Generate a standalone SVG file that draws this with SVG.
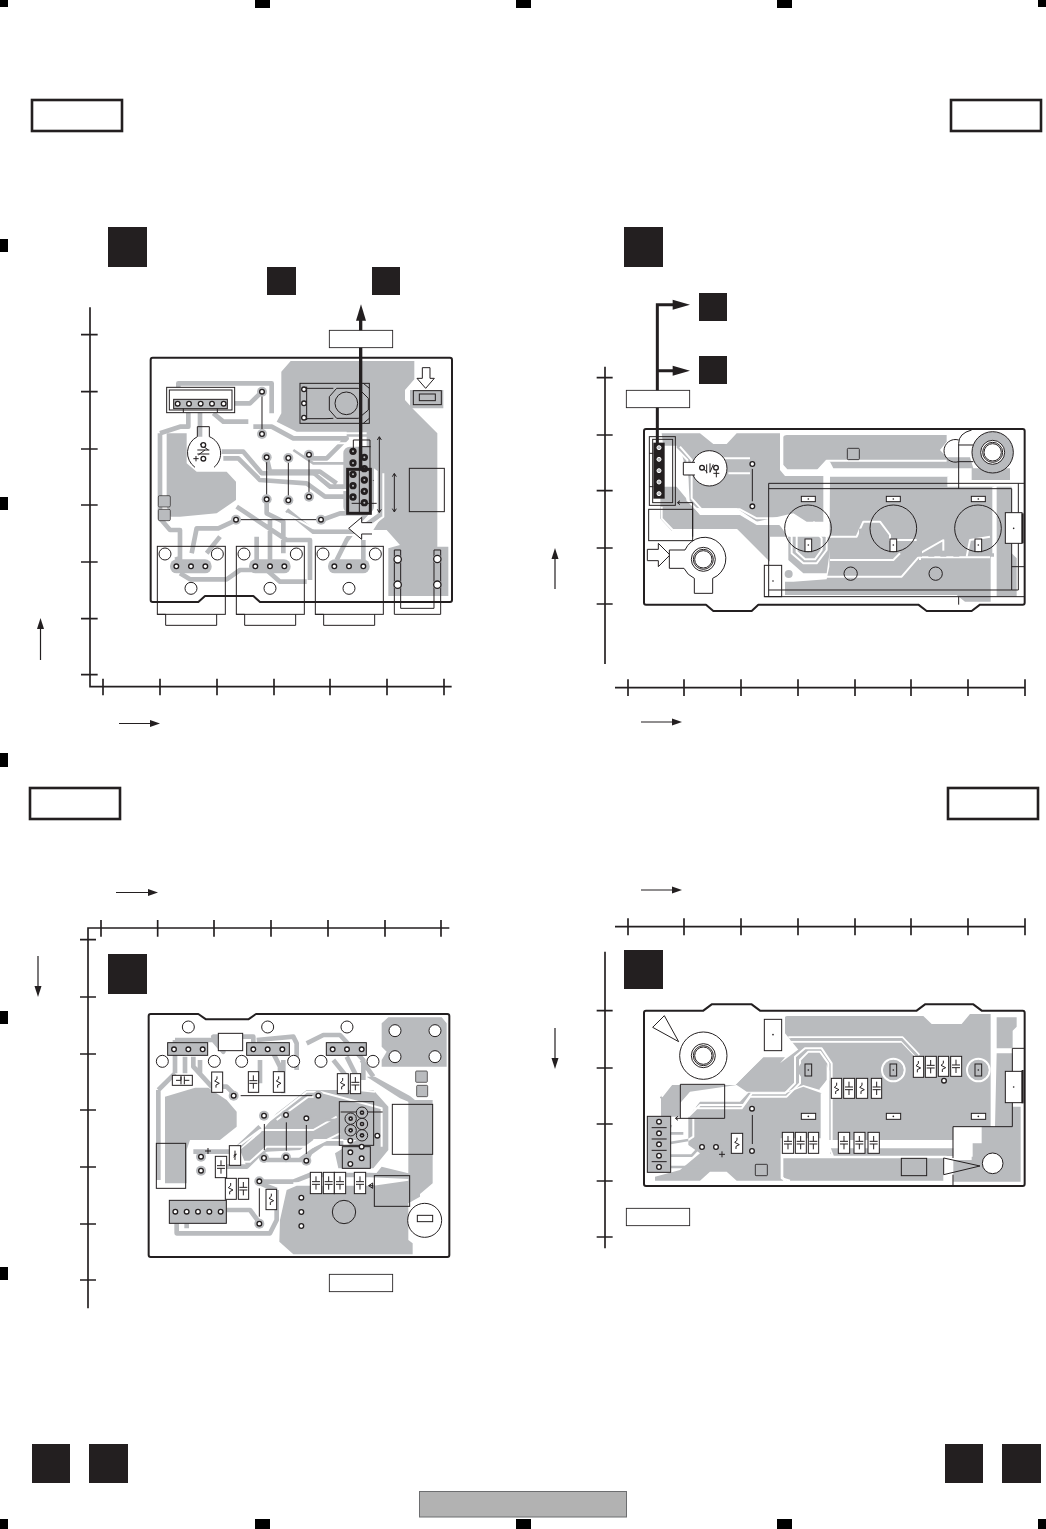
<svg xmlns="http://www.w3.org/2000/svg" width="1046" height="1529" viewBox="0 0 1046 1529">
<style>
.b{fill:#231f20}.m{fill:#000}
.f{fill:#fff;stroke:#231f20;stroke-width:3}
.g{fill:#b9bbbe}
.t{fill:none;stroke:#b9bbbe;stroke-width:14;stroke-linejoin:round}
.u{fill:none;stroke:#b9bbbe;stroke-width:8;stroke-linejoin:round}
.w{fill:none;stroke:#fff;stroke-width:6;stroke-linejoin:round}
.k{fill:none;stroke:#231f20;stroke-width:3}
.o{fill:none;stroke:#231f20;stroke-width:6}
.a{fill:none;stroke:#231f20;stroke-width:5}
.x{fill:none;stroke:#231f20;stroke-width:9}
.bd{fill:#fff;stroke:#231f20;stroke-width:6;stroke-linejoin:round}
.l{fill:#fff;stroke:#231f20;stroke-width:2.6}
</style>
<defs>
<g id="p"><circle r="15" class="g"/><circle r="7" fill="#fff" stroke="#231f20" stroke-width="4"/></g>
<g id="q"><circle r="7" fill="#fff" stroke="#231f20" stroke-width="4"/></g>
<g id="d"><circle r="11" class="b"/><circle r="3" fill="#b9bbbe"/></g>
<g id="e"><circle r="17" fill="#b9bbbe" stroke="#231f20" stroke-width="3"/><circle r="7" class="b"/><circle r="2" fill="#fff"/></g>
<g id="h"><circle r="18" fill="#fff" stroke="#231f20" stroke-width="3"/></g>
<g id="bp"><circle r="14" class="g"/><circle r="11" fill="#fff" stroke="#231f20" stroke-width="4"/></g>
<g id="dot"><circle r="2.5" fill="#231f20"/></g>
<path id="r" class="k" d="M0,-17 V-9 L-7,-3 L7,4 L-3,9 V17"/>
<path id="c" class="k" d="M0,-20 V-4 M-12,-4 H12 M-12,4 H12 M0,4 V20"/>
<g id="jack">
<rect x="270" y="1018" width="125" height="42" rx="20" fill="#b9bbbe"/>
<rect x="232" y="979" width="204" height="204" fill="none" stroke="#231f20" stroke-width="3"/>
<path class="k" d="M232,1183 H257 V1216 H410 V1183"/>
<use href="#h" x="255" y="1002"/><use href="#h" x="412" y="1002"/><use href="#h" x="333" y="1105"/>
<use href="#q" x="289" y="1039"/><use href="#q" x="333" y="1039"/><use href="#q" x="376" y="1039"/>
</g>
<g id="hole"><circle r="36" fill="#fff" stroke="#231f20" stroke-width="3"/><circle r="30" fill="none" stroke="#231f20" stroke-width="3"/><circle r="26" fill="#fff" stroke="#231f20" stroke-width="3"/></g>
</defs>

<g id="marks">
<rect class="m" x="0" y="0" width="8" height="7"/><rect class="m" x="255" y="0" width="15" height="8"/><rect class="m" x="516" y="0" width="15" height="8"/><rect class="m" x="777" y="0" width="15" height="8"/><rect class="m" x="1038" y="0" width="8" height="7"/>
<rect class="m" x="0" y="239" width="8" height="13"/><rect class="m" x="0" y="497" width="8" height="13"/><rect class="m" x="0" y="753" width="8" height="14"/><rect class="m" x="0" y="1011" width="8" height="13"/><rect class="m" x="0" y="1267" width="8" height="13"/>
<rect class="m" x="0" y="1519" width="8" height="10"/><rect class="m" x="255" y="1519" width="15" height="10"/><rect class="m" x="516" y="1519" width="15" height="10"/><rect class="m" x="777" y="1519" width="15" height="10"/><rect class="m" x="1038" y="1519" width="8" height="10"/>
</g>
<g id="page-boxes">
<rect class="l" x="32" y="100" width="90" height="31"/><rect class="l" x="951" y="100" width="90" height="31"/><rect class="l" x="30" y="788" width="90" height="31"/><rect class="l" x="948" y="788" width="90" height="31"/>
<rect class="b" x="32" y="1444" width="38" height="39"/><rect class="b" x="89" y="1444" width="39" height="39"/><rect class="b" x="945" y="1444" width="38" height="39"/><rect class="b" x="1002" y="1444" width="39" height="39"/>
<rect x="419.5" y="1491.5" width="207" height="25.500" fill="#b2b2b2" stroke="#6d6e70"/>
</g>
<g id="direction-arrows" fill="#231f20">
<path d="M40.500,660 V625" stroke="#231f20" stroke-width="1.200"/><path d="M40.500,618 L44,629 H37 Z"/>
<path d="M119,723.500 H152" stroke="#231f20" stroke-width="1.200"/><path d="M160,723.500 L150,720 V727 Z"/>
<path d="M555,589 V555" stroke="#231f20" stroke-width="1.200"/><path d="M555,548 L558.500,559 H551.500 Z"/>
<path d="M641,722 H674" stroke="#231f20" stroke-width="1.200"/><path d="M682,722 L672,718.500 V725.500 Z"/>
<path d="M116,892.500 H150" stroke="#231f20" stroke-width="1.200"/><path d="M158,892.500 L148,889 V896 Z"/>
<path d="M641,890 H674" stroke="#231f20" stroke-width="1.200"/><path d="M682,890 L672,886.500 V893.500 Z"/>
<path d="M38,956 V990" stroke="#231f20" stroke-width="1.200"/><path d="M38,997 L34.500,986 H41.500 Z"/>
<path d="M555,1028 V1062" stroke="#231f20" stroke-width="1.200"/><path d="M555,1069 L551.500,1058 H558.500 Z"/>
</g>

<g id="panel-a" transform="translate(80,220) scale(.33333)">
<path class="a" d="M30,262 V1400 H1115 M3,344 H53 M3,515 H53 M3,687 H53 M3,855 H53 M3,1026 H53 M3,1196 H53 M3,1364 H53 M69,1376 V1426 M240,1376 V1426 M411,1376 V1426 M582,1376 V1426 M750,1376 V1426 M921,1376 V1426 M1092,1376 V1426"/>
<rect class="b" x="84" y="21" width="117" height="120"/><rect class="b" x="561" y="141" width="87" height="84"/><rect class="b" x="876" y="141" width="84" height="84"/>
<path class="bd" d="M218,413 H1110 Q1116,413 1116,420 V1140 Q1116,1146 1110,1146 H540 L520,1128 H375 L355,1146 H218 Q212,1146 212,1140 V420 Q212,413 218,413 Z"/>
<path class="g" d="M632,423 H1003 V478 L975,510 V540 L1000,568 L1072,640 V980 H1105 V1128 H925 V985 L960,975 L920,930 L880,930 L905,890 V760 L860,720 V650 H800 V635 H650 L590,605 L604,580 V455 Z"/>
<path class="g" d="M260,640 H320 V730 L350,755 H440 L468,785 V840 L410,880 L300,890 H272 L260,860 Z"/>
<path class="g" d="M990,510 H1090 V565 H990 Z"/>
<rect class="g" x="790" y="680" width="92" height="200" rx="20"/>
<path class="w" d="M650,640 H860"/>
<path class="t" d="M240,640 V895 L270,930 H300 V1040 M240,640 L300,620 H325 V575 M295,520 V490 H575 V580 M360,570 V650 M400,580 L430,605 H505 M546,515 L510,550 H460 M520,620 H575 L640,655 H800 L740,715 H690 M425,695 H490 L545,760 H700 L750,800 H800 M430,715 H475 L540,780 L680,790 L735,830 H800 M560,712 L570,755 H720 L770,790 M470,900 L415,925 H350 L335,1000 M470,860 L620,960 H690 V1080 M620,870 L700,935 H830 L900,885 V750 L860,720 M560,840 V880 L610,905 V1000 M530,950 V1020 M570,900 V1030 M725,900 L780,880 H860 L800,960 L770,1020 M850,960 V1030 M300,1060 L330,1078 H440 L480,1050 H560 L600,1085 H680 M290,1010 L300,1040 M380,1000 L420,950"/>
<path class="w" d="M640,670 H800 M620,880 L700,925 H830 L885,870 V750 M700,945 H840 L910,890 V760 M540,770 H700 L745,810 H800"/>
<path class="u" d="M640,690 L700,730 H800"/>
<g id="a-pads">
<rect class="f" x="260" y="502" width="204" height="76"/><rect class="k" x="268" y="510" width="188" height="60"/><rect x="281" y="538" width="161" height="28" fill="#b9bbbe" stroke="#231f20" stroke-width="3"/><path class="k" d="M310,566 V578 M412,566 V578"/>
<use href="#q" x="293" y="551"/><use href="#q" x="327" y="551"/><use href="#q" x="362" y="551"/><use href="#q" x="396" y="551"/><use href="#q" x="431" y="551"/>
<path class="k" d="M546,515 V642 M560,712 V838 M625,714 V841 M687,704 V830 M468,899 H723"/>
<use href="#p" x="546" y="515"/><use href="#p" x="546" y="642"/><use href="#p" x="560" y="712"/><use href="#p" x="560" y="838"/><use href="#p" x="625" y="714"/><use href="#p" x="625" y="841"/><use href="#p" x="687" y="704"/><use href="#p" x="687" y="830"/><use href="#p" x="468" y="899"/><use href="#p" x="723" y="899"/>
<rect class="k" x="660" y="490" width="208" height="120"/>
<path class="k" d="M680,500 V600 M680,505 H738 L760,505 M680,596 H738 L760,595 M770,505 H835 L865,535 V570 L835,595 H770 L748,570 V530 Z M850,490 L868,505 M850,610 L868,595"/>
<circle class="k" cx="799" cy="550" r="34"/>
<use href="#q" x="672" y="508"/><use href="#q" x="672" y="550"/><use href="#q" x="672" y="593"/>
<path class="k" d="M352,650 V620 H388 V650 A54,54 0 0 1 402,742 M345,742 A54,54 0 0 1 352,650 M352,690 H388 M352,702 H388 M360,672 L385,690 M355,705 L375,690 M340,716 H356 M348,708 V724"/>
<use href="#q" x="370" y="675"/><use href="#q" x="370" y="716"/>
<path class="f" d="M1027,443 H1050 V475 H1063 L1037,505 L1011,475 H1027 Z"/>
<rect class="k" x="1000" y="512" width="84" height="42"/><rect class="k" x="1018" y="522" width="48" height="20"/>
<rect x="235" y="827" width="36" height="34" rx="4" fill="#b9bbbe" stroke="#231f20" stroke-width="2"/><rect x="235" y="868" width="36" height="34" rx="4" fill="#b9bbbe" stroke="#231f20" stroke-width="2"/>
<use href="#jack"/><use href="#jack" x="237"/><use href="#jack" x="474"/>
<path class="k" d="M943,990 V1183 H1082 V990 H1062 V1165 H962 V990 Z"/>
<use href="#bp" x="953" y="1018"/><use href="#bp" x="953" y="1094"/><use href="#bp" x="1072" y="1017"/><use href="#bp" x="1072" y="1094"/>
<rect class="k" x="988" y="745" width="105" height="130"/>
<path class="k" d="M820,660 H870 V880 M838,680 H872 M820,660 V700 M838,680 V880 M815,850 H890 M880,780 V782"/>
<path class="k" d="M898,652 V876 M892,660 L898,650 L904,660 M892,868 L898,878 L904,868 M943,762 V874 M937,770 L943,760 L949,770 M937,866 L943,876 L949,866"/>
<path class="f" d="M876,908 H845 V892 L806,925 L845,958 V942 H876"/>
<use href="#d" x="819" y="694"/><use href="#d" x="819" y="729"/><use href="#d" x="819" y="763"/><use href="#d" x="819" y="797"/><use href="#d" x="819" y="831"/>
<use href="#d" x="853" y="712"/><use href="#d" x="853" y="746"/><use href="#d" x="853" y="780"/><use href="#d" x="853" y="814"/><use href="#d" x="853" y="848"/>
<rect class="x" x="803" y="748" width="68" height="132"/>
</g>
<path d="M842,750 V300" fill="none" stroke="#231f20" stroke-width="10"/>
<path class="b" d="M843,253 L858,302 H828 Z"/>
<rect class="f" x="748" y="331" width="190" height="52" style="stroke-width:2.600"/>
</g>

<g id="panel-b" transform="translate(600,220) scale(.33333)">
<path class="a" d="M15,440 V1332 M-10,473 H38 M-10,645 H38 M-10,812 H38 M-10,984 H38 M-10,1152 H38 M45,1403 H1275 M84,1378 V1428 M252,1378 V1428 M423,1378 V1428 M594,1378 V1428 M765,1378 V1428 M933,1378 V1428 M1104,1378 V1428 M1275,1378 V1428"/>
<rect class="b" x="72" y="21" width="117" height="120"/><rect class="b" x="297" y="219" width="84" height="84"/><rect class="b" x="297" y="408" width="84" height="84"/>
<path class="bd" d="M138,627 H1268 Q1274,627 1274,633 V1148 Q1274,1154 1268,1154 H1140 L1115,1173 H980 L955,1154 H475 L455,1173 H340 L318,1154 H138 Q132,1154 132,1148 V633 Q132,627 138,627 Z"/>
<path class="g" d="M550,650 Q552,645 560,645 H1040 V665 L1020,690 L1040,712 H1110 L1120,745 H1230 V780 H1115 V745 H700 L690,725 L680,720 L655,748 H562 L550,735 Z"/>
<circle class="g" cx="1178" cy="697" r="62"/>
<path class="g" d="M185,640 H300 L340,672 H380 L410,640 H540 V750 L555,768 H670 V905 H620 L580,880 L470,905 L410,865 H300 L270,860 L265,775 L245,700 L225,680 H190 Z"/>
<path class="g" d="M690,770 H1045 V800 H1182 V1010 H1172 V1145 H1095 L1070,1125 H555 V1085 H580 L680,1078 L688,1040 Z"/>
<path class="g" d="M1190,800 H1235 V1000 L1250,1015 V1130 H1190 Z"/>
<path class="g" d="M182,800 H230 L300,885 H420 L470,915 H510 V1030 L410,932 H215 L180,895 Z"/>
<path class="g" d="M505,915 H540 L565,955 V1020 L610,1060 H680 L690,990 V950 H510 Z"/>
<path class="w" d="M225,682 L262,720 V840 L302,880 H420 L470,908 H535 L575,950 V1000 L610,1030 H650 L680,990 V950 L640,905"/>
<path class="w" d="M240,680 L275,720 V835 L305,868 H420 L470,895 H545 L590,945 V995 L615,1018 H645 L665,990 V955 L635,920"/>
<path class="w" d="M185,860 V895 L218,930 H410 L505,1025 L565,1070 H905 L955,1012 H1170"/>
<path class="w" d="M690,950 H770 L790,905 H840 L870,945 V960 H950 M680,770 V950 M690,1020 H880 L900,1000 M960,1020 V1000 L1030,960 L1030,1000 M1100,1010 L1110,960 L1170,950 M1180,800 V1000"/>
<path class="w" d="M545,650 V735 L562,755 H650 L680,722 H1040 M1045,770 V800"/>
<g fill="#b9bbbe"><rect x="700" y="926" width="18" height="18"/><rect x="738" y="926" width="18" height="18"/><rect x="777" y="926" width="18" height="18"/><rect x="822" y="926" width="18" height="18"/><rect x="948" y="992" width="18" height="18"/><rect x="985" y="992" width="18" height="18"/><rect x="1021" y="992" width="18" height="18"/><rect x="1060" y="992" width="18" height="18"/><circle cx="1031" cy="945" r="13"/><circle cx="566" cy="1062" r="12"/></g>
<path d="M370,715 H450 M385,760 H450 M180,680 H230" class="w"/>
<circle cx="328" cy="745" r="53" fill="#fff" stroke="#231f20" stroke-width="3"/>
<path class="f" d="M285,727 H250 V765 H285"/>
<path class="k" d="M320,733 V760 M330,730 V757 L340,733 M306,743 L322,757 M340,760 H358 M349,752 V772"/>
<use href="#q" x="306" y="743"/><use href="#q" x="348" y="743"/>
<path class="k" d="M457,732 V859"/><use href="#p" x="457" y="732"/><use href="#p" x="457" y="859"/>
<rect x="148" y="650" width="78" height="206" class="k"/><rect x="158" y="658" width="60" height="190" class="k"/>
<path class="k" d="M148,700 H160 M148,800 H160"/>
<rect class="b" x="160" y="668" width="34" height="168"/>
<g fill="#b9bbbe" stroke="#fff" stroke-width="3"><circle cx="177" cy="683" r="6"/><circle cx="177" cy="718" r="6"/><circle cx="177" cy="752" r="6"/><circle cx="177" cy="786" r="6"/><circle cx="177" cy="821" r="6"/></g>
<path d="M172,670 V254 H220 M172,452 H220" fill="none" stroke="#231f20" stroke-width="9"/>
<path class="b" d="M218,239 L270,254 L218,269 Z M218,437 L270,452 L218,467 Z"/>
<rect class="f" x="79" y="511" width="190" height="52" style="stroke-width:2.600"/>
<rect class="k" x="146" y="868" width="132" height="94"/>
<path class="k" d="M278,950 V848 H234 M240,842 L232,848 L240,854"/>
<path class="k" d="M506,790 H1272 M506,806 H1235 V1110 H506 M506,790 V1130 M493,1130 H1272 M1255,790 V1110 H1235 M1235,1040 H1272 M1076,806 V670 Q1076,640 1115,630 M1076,1130 V1154"/>
<path class="f" d="M142,988 H175 V970 L210,1005 L175,1040 V1022 H142 Z"/>
<path class="k" d="M1076,660 A34,34 0 1 0 1076,725 H1120 M1076,675 H1120"/>
<circle class="k" cx="1178" cy="697" r="62"/><use href="#hole" x="1178" y="697"/>
<path class="f" d="M208,990 H255 A64,64 0 1 1 338,1075 V1120 H283 V1075 A64,64 0 0 1 252,1045 H208 Z"/>
<use href="#hole" x="310" y="1018"/>
<circle class="k" cx="624" cy="925" r="70"/><circle class="k" cx="880" cy="925" r="70"/><circle class="k" cx="1134" cy="925" r="70"/>
<rect class="f" x="604" y="829" width="42" height="16"/><rect class="f" x="859" y="829" width="42" height="16"/><rect class="f" x="1114" y="829" width="42" height="16"/>
<rect class="f" x="615" y="957" width="20" height="38"/><rect class="f" x="870" y="957" width="20" height="38"/><rect class="f" x="1125" y="957" width="20" height="38"/>
<g><use href="#dot" x="625" y="837"/><use href="#dot" x="880" y="837"/><use href="#dot" x="1135" y="837"/><use href="#dot" x="625" y="975"/><use href="#dot" x="880" y="975"/><use href="#dot" x="1135" y="975"/><use href="#dot" x="519" y="1083"/></g>
<circle class="k" cx="752" cy="1061" r="20"/><circle class="k" cx="1007" cy="1061" r="20"/>
<rect x="742" y="685" width="36" height="34" rx="3" fill="#b9bbbe" stroke="#231f20" stroke-width="2.500"/>
<rect class="k" x="493" y="1036" width="52" height="94"/>
<rect class="f" x="1216" y="878" width="50" height="92"/>
<use href="#dot" x="1241" y="925"/>
<path d="M1268,880 V970" class="o"/>
</g>

<g id="panel-c" transform="translate(80,920) scale(.33333)">
<path class="a" d="M24,1165 V24 H1108 M0,59 H48 M0,231 H48 M0,402 H48 M0,570 H48 M0,741 H48 M0,912 H48 M0,1080 H48 M63,0 V50 M233,0 V50 M402,0 V50 M573,0 V50 M744,0 V50 M915,0 V50 M1083,0 V50"/>
<rect class="b" x="84" y="102" width="117" height="120"/>
<path class="bd" d="M212,282 H355 L378,298 H505 L528,282 H1102 Q1108,282 1108,288 V1005 Q1108,1011 1102,1011 H212 Q206,1011 206,1005 V288 Q206,282 212,282 Z"/>
<path class="g" d="M905,310 L925,292 H1085 L1100,310 V440 H905 L905,420 L920,395 L905,380 Z"/>
<path class="g" d="M255,530 L345,503 H385 L440,540 L470,575 V620 L420,660 L330,660 L320,690 V790 H255 Z"/>
<path class="g" d="M600,900 L620,810 L650,797 H880 L985,782 H1010 L1020,790 V830 L985,850 V960 L998,970 V1003 H640 L598,965 Z"/>
<path class="g" d="M860,470 H885 L990,528 L1005,540 H1058 V790 L1005,835 H985 V770 H880 L905,740 L985,760 V545 L960,535 Z"/>
<path class="g" d="M710,510 H880 L925,560 V690 L880,745 H775 L765,700 L830,660 H700 L660,690 L560,695 L500,740 L480,690 L540,640 L590,580 L680,510 Z"/>
<path class="t" d="M285,360 H400 L430,395 L400,350 H520 V400 M285,360 V460 M235,510 L285,460 M235,510 V780 M315,410 V460 M340,410 V440 L395,500 H440 L470,530 M360,420 L360,460 M530,360 L640,350 L650,370 V450 M540,420 V490 M580,400 L600,440 V500 M610,420 V520 M680,370 L730,345 H780 L850,420 V480 M760,420 L800,470 M800,410 L830,470 M845,420 L880,470 M340,695 H460 L540,620 M420,740 H500 L550,690 M560,720 H660 L730,670 H790 M680,720 L690,700 M540,785 H640 L690,765 H870 L990,770 M440,870 H510 L540,910 M290,910 V940 H570 L590,900 V810 M320,910 V925 M540,790 L590,810"/>
<path class="w" d="M525,560 L680,500 H740 L885,515 M545,620 L680,515 H720 L905,565 V680 M340,682 H470 L540,630 H700 L770,590 M420,725 H510 L560,680 H700 L780,640 M640,790 H880 M590,600 L685,530 H710 M700,660 H790"/>
<path class="u" d="M735,600 H780"/>
<rect x="787" y="680" width="84" height="65" fill="#b9bbbe" stroke="#231f20" stroke-width="3"/>
<rect class="k" x="778" y="545" width="103" height="131"/>
<path class="k" d="M782,576 H908"/>
<use href="#e" x="812" y="596"/><use href="#e" x="812" y="631"/><use href="#e" x="846" y="578"/><use href="#e" x="846" y="612"/><use href="#e" x="846" y="646"/>
<use href="#q" x="811" y="662"/><use href="#q" x="811" y="697"/><use href="#q" x="811" y="732"/><use href="#q" x="845" y="680"/><use href="#q" x="845" y="715"/><use href="#q" x="892" y="647"/>
<use href="#h" x="325" y="321"/><use href="#h" x="563" y="321"/><use href="#h" x="801" y="321"/><use href="#h" x="247" y="424"/><use href="#h" x="403" y="424"/><use href="#h" x="485" y="424"/><use href="#h" x="641" y="424"/><use href="#h" x="723" y="424"/><use href="#h" x="879" y="424"/>
<use href="#h" x="945" y="332"/><use href="#h" x="1065" y="332"/><use href="#h" x="945" y="410"/><use href="#h" x="1065" y="410"/>
<g fill="#b9bbbe" stroke="#231f20" stroke-width="3"><rect x="263" y="368" width="120" height="38"/><rect x="500" y="368" width="128" height="38"/><rect x="739" y="368" width="120" height="38"/><rect x="268" y="841" width="171" height="69"/></g>
<use href="#q" x="282" y="388"/><use href="#q" x="325" y="388"/><use href="#q" x="368" y="388"/><use href="#q" x="520" y="388"/><use href="#q" x="563" y="388"/><use href="#q" x="607" y="388"/><use href="#q" x="758" y="388"/><use href="#q" x="801" y="388"/><use href="#q" x="845" y="388"/>
<use href="#q" x="286" y="875"/><use href="#q" x="320" y="875"/><use href="#q" x="354" y="875"/><use href="#q" x="388" y="875"/><use href="#q" x="422" y="875"/>
<rect class="f" x="415" y="340" width="73" height="52"/>
<g class="f">
<rect x="277" y="466" width="60" height="30"/><rect x="395" y="456" width="33" height="61"/><rect x="505" y="455" width="31" height="62"/><rect x="580" y="455" width="33" height="62"/><rect x="772" y="461" width="33" height="60"/><rect x="811" y="461" width="31" height="60"/><rect x="448" y="677" width="34" height="59"/><rect x="406" y="709" width="34" height="64"/><rect x="436" y="775" width="33" height="63"/><rect x="475" y="775" width="31" height="63"/><rect x="558" y="808" width="32" height="61"/><rect x="691" y="757" width="34" height="64"/><rect x="730" y="757" width="33" height="64"/><rect x="763" y="757" width="34" height="64"/><rect x="823" y="757" width="34" height="64"/>
</g>
<path class="k" d="M288,481 H303 V469 M303,493 V469 M313,469 V493 M313,481 H328"/>
<use href="#r" x="411" y="486"/><use href="#c" x="520" y="486"/><use href="#r" x="596" y="486"/><use href="#r" x="788" y="491"/><use href="#c" x="826" y="491"/><path class="k" d="M465,692 V720 M461,706 L469,702 L461,712"/><use href="#c" x="423" y="741"/><use href="#r" x="452" y="806"/><use href="#c" x="490" y="806"/><use href="#r" x="574" y="838"/><use href="#c" x="708" y="789"/><use href="#c" x="746" y="789"/><use href="#c" x="780" y="789"/><use href="#c" x="840" y="789"/>
<path class="k" d="M482,527 H697 M553,612 V690 M619,607 V692 M679,615 V702 M538,805 V890"/>
<use href="#p" x="461" y="527"/><use href="#p" x="715" y="527"/><use href="#p" x="552" y="587"/><use href="#p" x="552" y="714"/><use href="#p" x="618" y="585"/><use href="#p" x="618" y="712"/><use href="#p" x="679" y="595"/><use href="#p" x="679" y="722"/><use href="#p" x="538" y="784"/><use href="#p" x="538" y="911"/><use href="#p" x="363" y="710"/><use href="#p" x="363" y="752"/>
<path class="k" d="M375,693 H393 M384,684 V702"/>
<use href="#q" x="664" y="833"/><use href="#q" x="664" y="876"/><use href="#q" x="664" y="918"/>
<rect class="k" x="229" y="670" width="88" height="135"/><rect class="k" x="937" y="553" width="121" height="150"/>
<rect class="k" x="883" y="767" width="106" height="92"/><path class="k" d="M880,797 H866 L878,789 V805 L866,797"/>
<circle class="k" cx="792" cy="876" r="35"/>
<circle class="f" cx="1034" cy="901" r="51"/><rect class="k" x="1012" y="886" width="46" height="19"/>
<rect x="1007" y="453" width="35" height="34" rx="3" fill="#b9bbbe" stroke="#231f20" stroke-width="2"/><rect x="1010" y="496" width="33" height="34" rx="3" fill="#b9bbbe" stroke="#231f20" stroke-width="2"/>
<rect class="f" x="748" y="1063" width="190" height="52" style="stroke-width:2.600"/>
</g>

<g id="panel-d" transform="translate(600,920) scale(.33333)">
<path class="a" d="M15,95 V985 M-10,272 H38 M-10,444 H38 M-10,612 H38 M-10,783 H38 M-10,951 H38 M45,20 H1275 M84,-5 V46 M252,-5 V46 M423,-5 V46 M594,-5 V46 M765,-5 V46 M933,-5 V46 M1104,-5 V46 M1275,-5 V46"/>
<rect class="b" x="72" y="90" width="117" height="117"/>
<path class="bd" d="M138,272 H310 L335,253 H455 L480,272 H950 L975,253 H1120 L1145,272 H1268 Q1274,272 1274,278 V792 Q1274,798 1268,798 H138 Q132,798 132,792 V278 Q132,272 138,272 Z"/>
<path class="g" d="M555,292 Q556,288 562,288 H970 L995,312 H1085 L1110,282 H1172 V620 H1060 V660 H688 V452 L660,395 H600 L555,340 Z"/>
<path class="g" d="M300,545 H420 L445,518 H560 L610,500 L665,520 V655 H545 V775 L550,782 H410 L380,755 H330 L300,782 H165 V770 L240,750 L300,700 L265,675 V590 Z"/>
<path class="g" d="M550,715 H1030 V782 H560 L550,770 Z"/>
<path class="g" d="M690,685 H1060 V708 H700 L690,700 Z"/>
<path class="g" d="M1190,292 H1250 V320 L1238,332 V385 L1190,385 Z"/>
<path class="g" d="M1190,400 H1238 V560 H1262 V640 H1262 V785 H1060 V720 L1115,720 L1115,670 H1145 V620 H1185 Z"/>
<path class="g" d="M180,532 L215,495 H405 L490,412 H555 L540,430 L600,385 H660 L680,430 V480 L660,510 L610,495 L560,515 H440 L410,495 L270,515 L240,550 V590 H180 Z"/>
<path class="w" d="M565,352 H908 L958,405 M565,365 H905 L950,412"/>
<path class="u" d="M572,358 H905 L952,408"/>
<path class="w" d="M185,530 L215,492 H405 L490,405 H555 M180,535 V590 M275,565 H425 L450,530 H560 L600,490 V420 L625,395 H660 L685,430 V480 L660,510 M265,590 L300,555 H430 L455,520 H555 L585,490 V410 L615,385 H665 L695,430 V660"/>
<path class="w" d="M280,595 V650 L235,680 M245,600 V660 L210,670 M545,655 V775 L570,782 M545,710 H1040 M665,520 V660 H680 L700,712"/>
<circle class="w" cx="880" cy="450" r="34"/><circle class="g" cx="880" cy="450" r="30"/>
<circle class="w" cx="1135" cy="450" r="34"/><circle class="g" cx="1135" cy="450" r="30"/>
<circle cx="625" cy="450" r="30" class="g"/>
<path class="w" d="M1180,400 H1182 V620 M1110,640 H1115 V710 M1178,290 V400"/>
<path class="u" d="M185,605 L215,620 M185,640 L250,640 M185,673 L265,660 M185,707 H275 L300,680 M185,741 H300 L345,690 H440"/>
<path class="f" d="M193,287 L158,322 L236,365 Z"/>
<circle class="f" cx="310" cy="407" r="71"/><use href="#hole" x="310" y="407"/>
<rect class="f" x="493" y="298" width="52" height="94"/><use href="#dot" x="519" y="344"/>
<rect x="142" y="589" width="70" height="168" fill="#b9bbbe" stroke="#231f20" stroke-width="3"/>
<path class="k" d="M155,623 H200 M155,657 H200 M155,691 H200 M155,725 H200"/>
<use href="#q" x="177" y="605"/><use href="#q" x="177" y="640"/><use href="#q" x="177" y="673"/><use href="#q" x="177" y="707"/><use href="#q" x="177" y="741"/>
<path class="k" d="M241,595 V493 H374 V595 H228 M234,589 L226,595 L234,601"/>
<g class="f"><rect x="604" y="580" width="43" height="18"/><rect x="859" y="580" width="43" height="18"/><rect x="1114" y="580" width="43" height="18"/></g>
<rect x="615" y="432" width="20" height="36" fill="none" stroke="#231f20" stroke-width="3"/><rect x="870" y="432" width="20" height="36" fill="none" stroke="#231f20" stroke-width="3"/><rect x="1125" y="432" width="20" height="36" fill="none" stroke="#231f20" stroke-width="3"/>
<use href="#dot" x="625" y="589"/><use href="#dot" x="880" y="589"/><use href="#dot" x="1135" y="589"/><use href="#dot" x="625" y="450"/><use href="#dot" x="880" y="450"/><use href="#dot" x="1135" y="450"/>
<g class="f"><rect x="694" y="475" width="31" height="60"/><rect x="731" y="475" width="33" height="60"/><rect x="769" y="475" width="34" height="60"/><rect x="814" y="475" width="31" height="60"/><rect x="940" y="409" width="31" height="63"/><rect x="976" y="409" width="33" height="63"/><rect x="1015" y="409" width="31" height="60"/><rect x="1052" y="409" width="33" height="60"/><rect x="547" y="637" width="34" height="63"/><rect x="586" y="637" width="33" height="63"/><rect x="625" y="637" width="31" height="63"/><rect x="715" y="637" width="34" height="63"/><rect x="762" y="637" width="33" height="63"/><rect x="804" y="637" width="34" height="63"/><rect x="394" y="640" width="34" height="60"/></g>
<use href="#r" x="710" y="505"/><use href="#c" x="747" y="505"/><use href="#r" x="786" y="505"/><use href="#c" x="830" y="505"/><use href="#r" x="955" y="440"/><use href="#c" x="992" y="440"/><use href="#r" x="1030" y="439"/><use href="#c" x="1068" y="439"/><use href="#c" x="564" y="668"/><use href="#c" x="602" y="668"/><use href="#c" x="640" y="668"/><use href="#c" x="732" y="668"/><use href="#c" x="778" y="668"/><use href="#c" x="821" y="668"/><use href="#r" x="411" y="670"/>
<use href="#q" x="1032" y="482"/>
<path class="k" d="M457,585 V672"/><use href="#p" x="456" y="566"/><use href="#p" x="456" y="693"/><use href="#p" x="306" y="681"/><use href="#p" x="348" y="681"/>
<path class="k" d="M357,703 H375 M366,694 V712"/>
<rect x="466" y="733" width="36" height="34" rx="2" fill="#b9bbbe" stroke="#231f20" stroke-width="2.500"/>
<rect class="k" x="904" y="715" width="76" height="52"/>
<path class="k" d="M1059,798 V764 M1059,714 V620 H1237 V385 H1272 M1031,714 L1140,738 L1031,764 Z"/>
<circle class="f" cx="1178" cy="730" r="31"/>
<rect class="f" x="1216" y="454" width="50" height="94"/><use href="#dot" x="1241" y="501"/>
<path d="M1268,450 V550" class="o"/>
<rect class="f" x="79" y="865" width="190" height="52" style="stroke-width:2.600"/>
</g>
</svg>
